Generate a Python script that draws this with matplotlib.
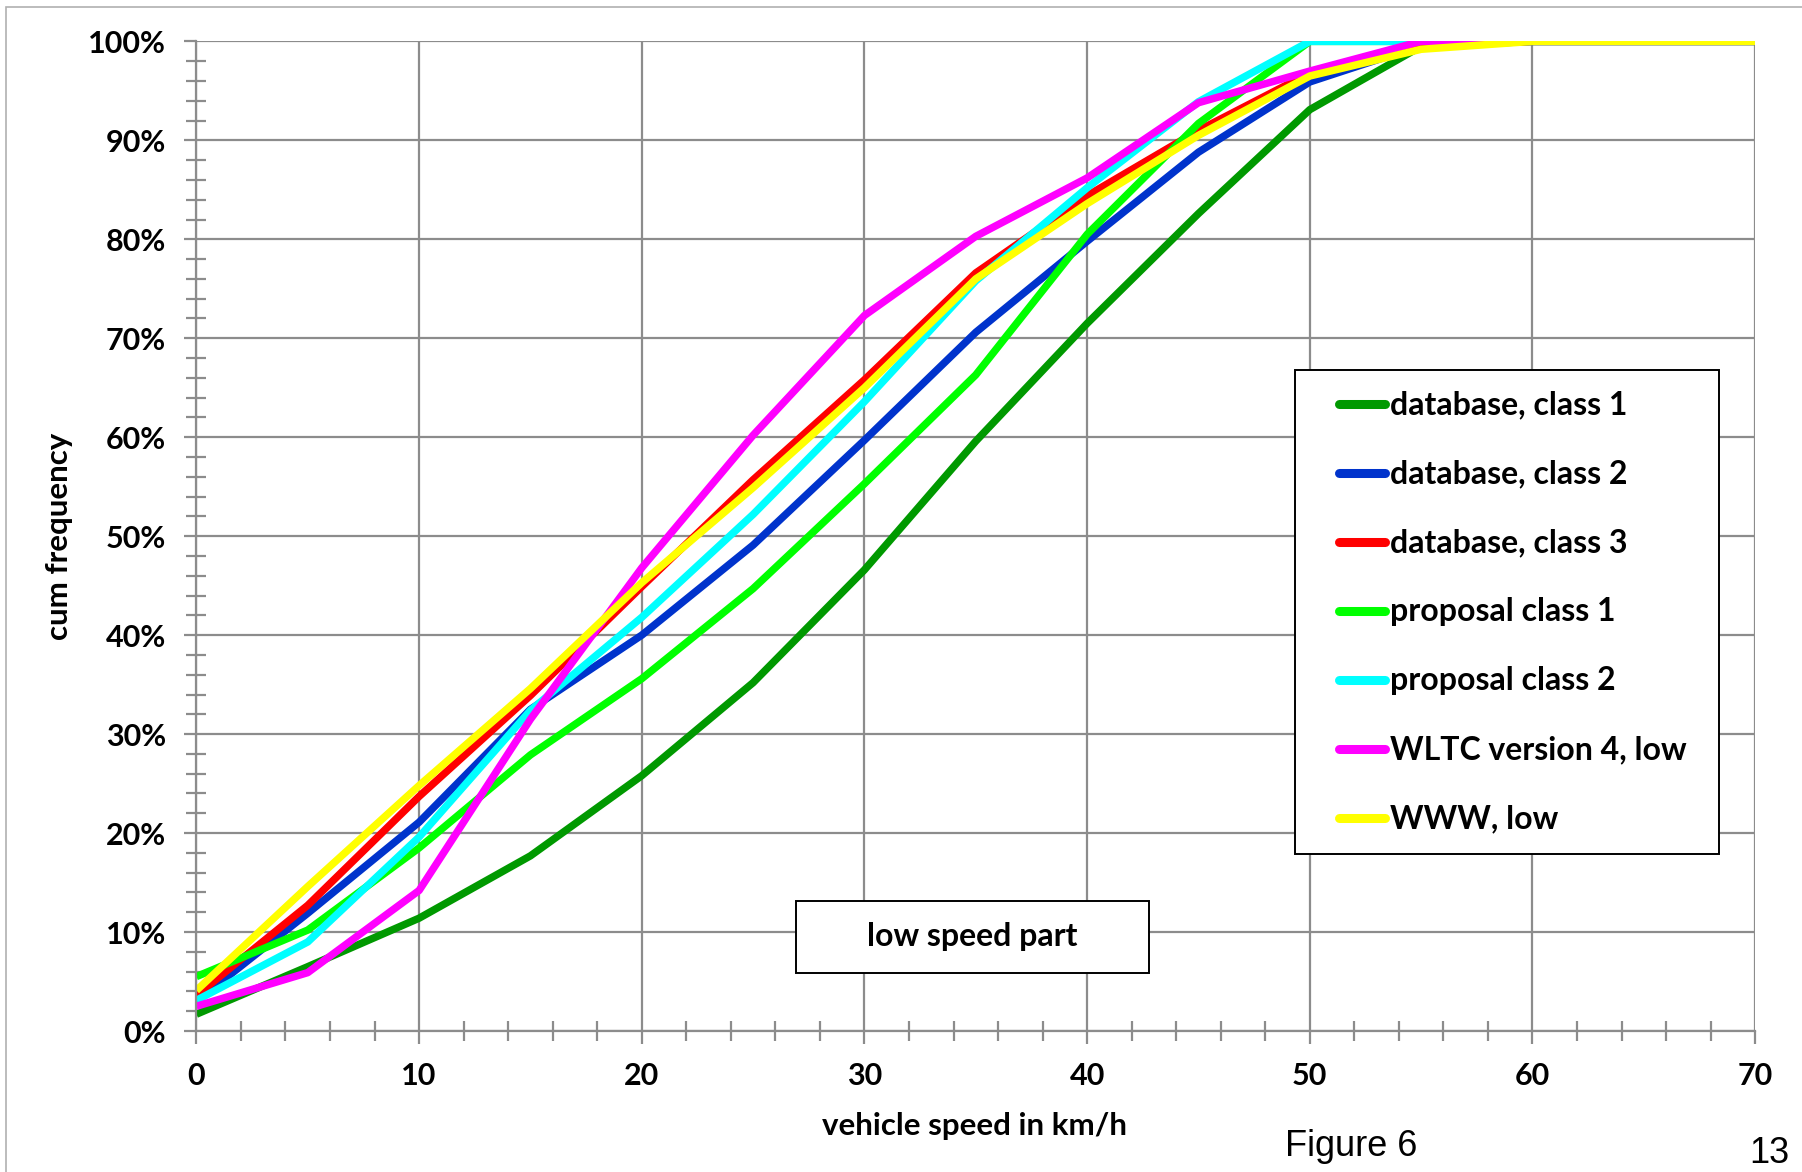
import matplotlib
matplotlib.use("Agg")
import matplotlib.pyplot as plt
from matplotlib.patches import Rectangle
from matplotlib.lines import Line2D
from matplotlib.ticker import MultipleLocator, PercentFormatter

plt.rcParams['font.family'] = ['Lato', 'DejaVu Sans']

# vehicle speed in km/h (class boundaries)
speed = [0, 5, 10, 15, 20, 25, 30, 35, 40, 45, 50, 55, 60, 65, 70]

# cumulative frequency in %
db_class1 = [1.7, 6.5, 11.4, 17.7, 25.8, 35.2, 46.6, 59.6, 71.5, 82.6, 93.1, 99.5, 100, 100, 100]
db_class2 = [3.0, 11.9, 21.1, 32.5, 40.0, 49.1, 59.7, 70.6, 79.8, 88.8, 95.9, 99.6, 100, 100, 100]
db_class3 = [3.6, 12.7, 23.7, 33.9, 44.9, 55.7, 65.8, 76.6, 84.4, 91.0, 96.8, 99.6, 100, 100, 100]
prop_class1 = [5.5, 10.2, 18.5, 27.9, 35.6, 44.7, 55.3, 66.3, 80.5, 91.7, 100, 100, 100, 100, 100]
prop_class2 = [3.1, 9.0, 19.6, 32.4, 41.8, 52.2, 63.6, 75.8, 85.2, 93.9, 100, 100, 100, 100, 100]
wltc_v4_low = [2.5, 5.9, 14.2, 31.5, 46.8, 60.2, 72.3, 80.3, 86.2, 93.8, 97.0, 100, 100, 100, 100]
www_low = [4.1, 14.6, 24.8, 34.6, 45.3, 54.9, 65.0, 76.0, 83.6, 90.5, 96.5, 99.2, 100, 100, 100]

series = [
    ("database, class 1", db_class1, "#009900"),
    ("database, class 2", db_class2, "#0033CC"),
    ("database, class 3", db_class3, "#FF0000"),
    ("proposal class 1", prop_class1, "#00FF00"),
    ("proposal class 2", prop_class2, "#00FFFF"),
    ("WLTC version 4, low", wltc_v4_low, "#FF00FF"),
    ("WWW, low", www_low, "#FFFF00"),
]

fig = plt.figure(figsize=(18.02, 11.72), dpi=100)
ax = fig.add_axes([0.109, 0.1203, 0.865, 0.8444])

for name, vals, col in series:
    ax.plot(speed, vals, color=col, lw=5.4, label=name, solid_capstyle='butt')

ax.set_xlim(0, 70)
ax.set_ylim(0, 100)
ax.xaxis.set_major_locator(MultipleLocator(10))
ax.xaxis.set_minor_locator(MultipleLocator(2))
ax.yaxis.set_major_locator(MultipleLocator(10))
ax.yaxis.set_minor_locator(MultipleLocator(2))
ax.yaxis.set_major_formatter(PercentFormatter(decimals=0))

grid_col = '#8c8c8c'
ax.grid(True, which='major', color=grid_col, lw=1.6)
ax.set_axisbelow(True)
for s in ['top', 'right']:
    ax.spines[s].set_visible(False)
for s in ['left', 'bottom']:
    ax.spines[s].set_color(grid_col)
    ax.spines[s].set_linewidth(1.6)

ax.tick_params(which='major', direction='out', length=9, width=1.6, color=grid_col,
               labelsize=22, pad=13)
ax.tick_params(which='minor', direction='inout', length=14, width=1.6, color=grid_col)
for lab in ax.get_xticklabels() + ax.get_yticklabels():
    lab.set_fontweight('bold')

# legend box, drawn by hand so the padding matches
fig.add_artist(Rectangle((0.7187, 0.2713), 0.2352, 0.4130, transform=fig.transFigure,
                         facecolor='white', edgecolor='black', lw=1.4, zorder=5))
y0, step = 0.6549, 0.05887
for i, (name, vals, col) in enumerate(series):
    yy = y0 - i * step
    fig.add_artist(Line2D([0.7433, 0.7685], [yy, yy], transform=fig.transFigure, color=col,
                          lw=6.5, solid_capstyle='round', zorder=6))
    fig.text(0.7712, yy, name, ha='left', va='center', fontsize=23, fontweight='bold', zorder=7)

# "low speed part" box
ax.add_patch(Rectangle((0.3847, 0.0586), 0.2263, 0.0727, transform=ax.transAxes,
                       facecolor='white', edgecolor='black', lw=1.4, zorder=5))
ax.text(0.498, 0.095, 'low speed part', transform=ax.transAxes, ha='center', va='center',
        fontsize=23, fontweight='bold', zorder=6)

fig.text(0.033, 0.542, 'cum frequency', rotation=90, ha='center', va='center',
         fontsize=22.5, fontweight='bold')
fig.text(0.541, 0.039, 'vehicle speed in km/h', ha='center', va='center',
         fontsize=22.5, fontweight='bold')
fig.text(0.750, 0.022, 'Figure 6', ha='center', va='center', fontsize=26,
         family=['Liberation Sans', 'DejaVu Sans'])
fig.text(0.982, 0.016, '13', ha='center', va='center', fontsize=26,
         family=['Liberation Sans', 'DejaVu Sans'])

# outer frame of the page
fig.add_artist(Rectangle((0.0033, -0.1), 1.2, 1.094, transform=fig.transFigure,
                         facecolor='none', edgecolor='#b0b0b0', lw=1.2))

fig.savefig('out.png', dpi=100)
